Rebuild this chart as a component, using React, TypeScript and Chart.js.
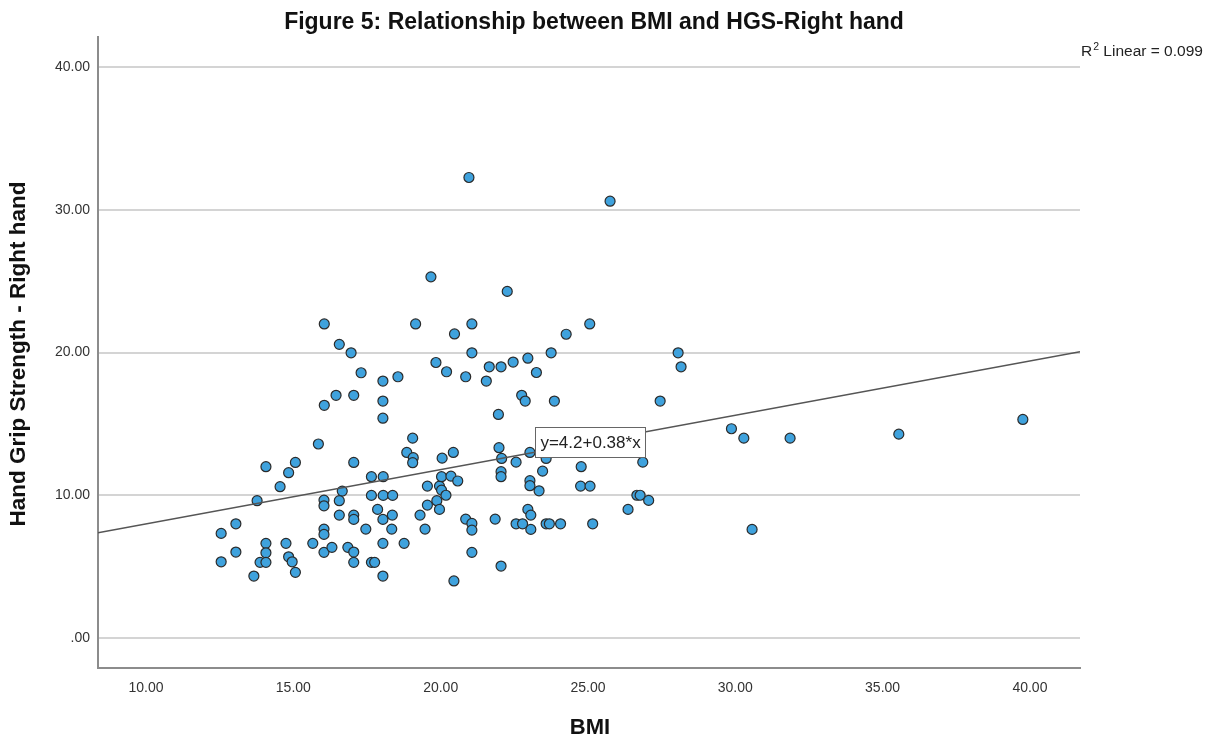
import React, { useEffect, useRef } from "react";
import { Chart, registerables } from "chart.js";

Chart.register(...registerables);

// ---- Data ----
const bmi: number[] = [
  16.05, 16.56, 16.96, 17.3, 18.04, 18.55, 19.67, 19.15, 19.84, 20.2,
  16.05, 16.45, 17.05, 18.04, 18.04,
  22.26, 21.06, 20.47, 21.06, 20.85, 21.65, 22.05, 22.46, 22.96, 21.55,
  23.25, 23.75, 24.26, 25.06, 22.75, 22.87, 23.86, 21.96, 28.06, 28.16,
  27.45, 20.96, 25.75,
  15.85, 14.07, 15.07, 14.84, 14.55, 13.77, 17.05, 19.05, 18.85, 19.07,
  19.05, 17.65, 18.05, 16.66, 16.04, 16.04, 16.56, 17.65, 18.05, 18.37,
  16.56, 17.05, 17.05, 17.86, 18.04, 18.36, 18.34, 17.46, 16.04, 16.04,
  12.55, 13.05, 12.55, 13.05, 13.66, 14.07, 14.07, 13.87, 14.07, 14.75,
  14.84, 14.96, 15.07, 15.66, 16.04, 16.31, 16.85, 17.05, 17.05, 17.65,
  17.76, 18.04, 18.76, 18.04,
  19.55, 19.96, 20.03, 20.35, 20.58, 20.03, 20.18, 19.87, 19.55, 19.96,
  19.3, 19.47, 20.05, 20.43,
  21.98, 22.07, 22.56, 23.03, 23.58, 24.77, 26.86, 22.05, 22.05, 23.46,
  23.03, 23.03, 23.34, 24.75, 25.07, 26.66, 26.77, 27.06, 26.36, 20.85,
  21.06, 21.06, 21.85, 22.96, 23.06, 23.06, 22.56, 22.78, 23.58, 23.69,
  24.07, 25.16, 21.06, 22.05, 20.45,
  29.87, 30.29, 31.86, 35.55, 39.76, 30.57,
];
const hgsRight: number[] = [
  22.0, 20.57, 19.98, 18.58, 18.0, 18.3, 25.3, 22.0, 19.3, 18.65,
  16.3, 17.0, 17.0, 16.6, 15.4,
  24.28, 22.0, 21.3, 19.98, 18.3, 19.0, 19.0, 19.33, 19.6, 18.0,
  18.6, 19.98, 21.28, 22.0, 17.0, 16.6, 16.6, 15.66, 19.98, 19.0,
  16.6, 32.26, 30.6,
  13.59, 12.0, 12.3, 11.58, 10.6, 9.62, 12.3, 14.0, 13.0, 12.63,
  12.28, 11.3, 11.3, 10.29, 9.66, 9.26, 9.62, 9.99, 9.99, 9.99,
  8.61, 8.61, 8.31, 9.01, 8.31, 8.61, 7.63, 7.63, 7.63, 7.26,
  7.33, 8.0, 5.34, 6.02, 4.34, 6.63, 5.97, 5.3, 5.3, 6.63,
  5.69, 5.34, 4.6, 6.63, 6.0, 6.35, 6.35, 6.02, 5.3, 5.3,
  5.3, 6.63, 6.63, 4.34,
  10.64, 10.64, 11.3, 11.34, 11.0, 10.36, 10.0, 9.62, 9.31, 9.01,
  8.61, 7.63, 12.6, 13.0,
  13.33, 12.58, 12.32, 13.0, 12.58, 12.0, 12.32, 11.65, 11.3, 11.69,
  11.02, 10.67, 10.31, 10.64, 10.64, 10.0, 10.0, 9.64, 9.01, 8.33,
  8.03, 7.56, 8.33, 9.01, 8.61, 7.61, 8.0, 8.0, 8.0, 8.0,
  8.0, 8.0, 6.0, 5.04, 4.0,
  14.66, 14.0, 14.0, 14.28, 15.31, 7.61,
];

const xTicks: number[] = [10, 15, 20, 25, 30, 35, 40];
const yTicks: number[] = [0, 10, 20, 30, 40];

const fitIntercept = 4.2;
const fitSlope = 0.38;
const rSquaredText = "0.099";
const equationText = "y=4.2+0.38*x";
const equationAnchor = { x: 25.07, y: 13.73 };

const titleText = "Figure 5: Relationship between BMI and HGS-Right hand";
const xTitleText = "BMI";
const yTitleText = "Hand Grip Strength - Right hand";

const X_MIN = 8.37;
const X_MAX = 41.7;
const Y_MIN = -2.1;
const Y_MAX = 42.1;

const FONT = '"Liberation Sans", Arial, sans-serif';

const fmt = (v: number) => v.toFixed(2).replace(/^0\./, ".");

const textPlugin = {
  id: "spssTexts",
  afterDraw(chart: any) {
    const { ctx, chartArea, scales } = chart;
    ctx.save();
    // Title
    ctx.fillStyle = "#111";
    ctx.font = `bold 23px ${FONT}`;
    ctx.textAlign = "center";
    ctx.textBaseline = "middle";
    ctx.fillText(titleText, 594, 23);

    // X title
    ctx.font = `bold 22px ${FONT}`;
    ctx.fillText(xTitleText, 590, chartArea.bottom + 60);

    // Y title
    ctx.save();
    ctx.translate(19, 354);
    ctx.rotate(-Math.PI / 2);
    ctx.font = `bold 22.5px ${FONT}`;
    ctx.fillText(yTitleText, 0, 0);
    ctx.restore();

    // R^2 label
    ctx.font = `15.5px ${FONT}`;
    ctx.textAlign = "left";
    ctx.textBaseline = "alphabetic";
    ctx.fillStyle = "#222";
    let x = chartArea.right + 1;
    const yb = 56;
    ctx.fillText("R", x, yb);
    x += ctx.measureText("R").width + 1;
    ctx.font = `10.5px ${FONT}`;
    ctx.fillText("2", x, yb - 6);
    x += ctx.measureText("2").width;
    ctx.font = `15.5px ${FONT}`;
    ctx.fillText(" Linear = " + rSquaredText, x, yb);

    // Equation box
    const cx = scales.x.getPixelForValue(equationAnchor.x);
    const cy = scales.y.getPixelForValue(equationAnchor.y);
    ctx.font = `17px ${FONT}`;
    const w = 110;
    const h = 30;
    const bx = Math.round(cx - w / 2) + 0.5;
    const by = Math.round(cy - h / 2) + 0.5;
    ctx.fillStyle = "#fff";
    ctx.fillRect(bx, by, w, h);
    ctx.strokeStyle = "#666";
    ctx.lineWidth = 1;
    ctx.strokeRect(bx, by, w, h);
    ctx.fillStyle = "#222";
    ctx.textAlign = "center";
    ctx.textBaseline = "middle";
    ctx.fillText(equationText, cx + 0.5, cy + 1);
    ctx.restore();
  },
};

export default function App() {
  const canvasRef = useRef<HTMLCanvasElement | null>(null);

  useEffect(() => {
    document.body.style.margin = "0";
    const canvas = canvasRef.current;
    if (!canvas) return;
    const points = bmi.map((b, i) => ({ x: b, y: hgsRight[i] }));
    const fitLine = [X_MIN, X_MAX].map((x) => ({ x, y: fitIntercept + fitSlope * x }));

    const chart = new Chart(canvas, {
      type: "scatter",
      data: {
        datasets: [
          {
            type: "line",
            label: "Fit",
            data: fitLine,
            borderColor: "#555",
            borderWidth: 1.5,
            pointRadius: 0,
            showLine: true,
            fill: false,
          } as any,
          {
            label: "HGS",
            data: points,
            backgroundColor: "#3fa2dd",
            borderColor: "#2b2b2b",
            borderWidth: 1.2,
            pointRadius: 5,
          },
        ],
      },
      options: {
        animation: false,
        responsive: false,
        maintainAspectRatio: false,
        layout: { padding: { top: 37, right: 126, left: 0, bottom: 0 } },
        plugins: {
          legend: { display: false },
          tooltip: { enabled: false },
          title: { display: false },
        },
        scales: {
          x: {
            type: "linear",
            min: X_MIN,
            max: X_MAX,
            afterBuildTicks: (scale: any) => {
              scale.ticks = xTicks.map((v) => ({ value: v }));
            },
            afterFit: (scale: any) => {
              scale.height = 70;
            },
            grid: { display: false, drawTicks: false },
            border: { display: true, color: "#8c8c8c", width: 2 },
            ticks: {
              padding: 12,
              color: "#333",
              font: { family: FONT, size: 14 },
              callback: (v: any) => fmt(Number(v)),
              maxRotation: 0,
              autoSkip: false,
            },
          },
          y: {
            type: "linear",
            min: Y_MIN,
            max: Y_MAX,
            afterBuildTicks: (scale: any) => {
              scale.ticks = yTicks.map((v) => ({ value: v }));
            },
            afterFit: (scale: any) => {
              scale.width = 98;
            },
            grid: { display: true, drawTicks: false, color: "#d4d4d4", lineWidth: 2 },
            border: { display: true, color: "#8c8c8c", width: 2 },
            ticks: {
              padding: 8,
              color: "#333",
              font: { family: FONT, size: 14 },
              callback: (v: any) => fmt(Number(v)),
              autoSkip: false,
            },
          },
        },
      },
      plugins: [textPlugin],
    });
    return () => chart.destroy();
  }, []);

  return (
    <div style={{ position: "absolute", left: 0, top: 0, width: 1206, height: 738, background: "#fff" }}>
      <canvas ref={canvasRef} width={1206} height={738} style={{ display: "block" }} />
    </div>
  );
}
